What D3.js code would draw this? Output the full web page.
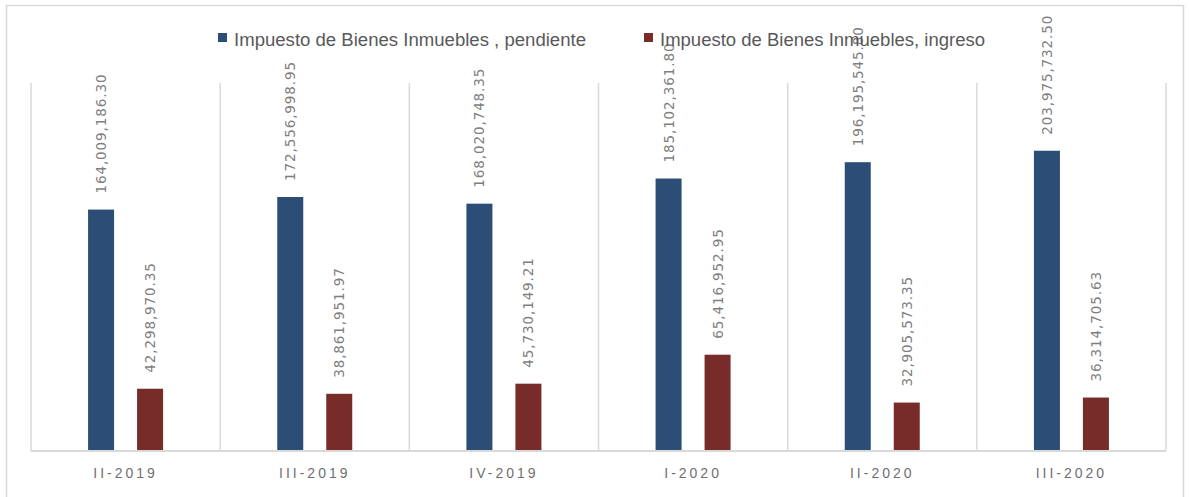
<!DOCTYPE html>
<html>
<head>
<meta charset="utf-8">
<script src="https://cdn.jsdelivr.net/npm/d3@7"></script>
<style>
  body { margin: 0; background: #fff; }
  svg { display: block; }
</style>
</head>
<body>
<svg id="chart"></svg>
<script>
const categories = ["II-2019", "III-2019", "IV-2019", "I-2020", "II-2020", "III-2020"];
const pendiente = [164009186.30, 172556998.95, 168020748.35, 185102361.80, 196195545.80, 203975732.50];
const ingreso = [42298970.35, 38861951.97, 45730149.21, 65416952.95, 32905573.35, 36314705.63];
const seriesNames = ["Impuesto de Bienes Inmuebles , pendiente", "Impuesto de Bienes Inmuebles, ingreso"];
const colors = ["#2c4d75", "#772c2a"];

const width = 1189, height = 497;
const margin = { top: 83, right: 23, bottom: 46, left: 31 };

const svg = d3.select("#chart").attr("width", width).attr("height", height);

// outer chart border
svg.append("rect")
  .attr("x", 6.5).attr("y", 5.5)
  .attr("width", 1177).attr("height", 500)
  .attr("fill", "none").attr("stroke", "#d9d9d9").attr("stroke-width", 1.5);

const x = d3.scaleBand(categories, [margin.left, width - margin.right]);
const y = d3.scaleLinear([0, 250000000], [height - margin.bottom, margin.top]);

const fmt = d3.format(",.2f");

// category separators
svg.append("g")
  .selectAll("line")
  .data(d3.range(categories.length + 1))
  .join("line")
  .attr("x1", (i) => margin.left + i * x.step())
  .attr("x2", (i) => margin.left + i * x.step())
  .attr("y1", margin.top)
  .attr("y2", y(0))
  .attr("stroke", "#d9d9d9")
  .attr("stroke-width", 1.5);

const barW = 26;

const data = [pendiente, ingreso];
data.forEach((vals, s) => {
  const g = svg.append("g");
  const cx = (i) => x(categories[i]) + x.bandwidth() / 2 + (s === 0 ? -24.5 : 24.5);
  g.selectAll("rect")
    .data(vals)
    .join("rect")
    .attr("x", (d, i) => cx(i) - barW / 2)
    .attr("y", (d) => y(d))
    .attr("width", barW)
    .attr("height", (d) => y(0) - y(d))
    .attr("fill", colors[s]);

  g.selectAll("text")
    .data(vals)
    .join("text")
    .attr("transform", (d, i) => `translate(${cx(i) + 5},${y(d) - 16}) rotate(-90)`)
    .attr("text-anchor", "start")
    .attr("font-family", "DejaVu Sans")
    .attr("font-size", 13.5)
    .attr("letter-spacing", 0.9)
    .attr("fill", "#7f7f7f")
    .text((d) => fmt(d));
});

// baseline
svg.append("line")
  .attr("x1", margin.left).attr("x2", width - margin.right)
  .attr("y1", y(0)).attr("y2", y(0))
  .attr("stroke", "#d9d9d9").attr("stroke-width", 2);

// x axis labels
svg.append("g")
  .attr("transform", `translate(0,${y(0)})`)
  .call(d3.axisBottom(x).tickSize(0).tickPadding(17))
  .call((g) => g.select(".domain").remove())
  .call((g) => g.selectAll("text")
    .attr("font-family", "Liberation Sans")
    .attr("font-size", 14)
    .attr("letter-spacing", 3)
    .attr("fill", "#6f6f6f"));

// legend
const legendX = [218, 644];
const legendLen = [352, 325];
const legend = svg.append("g");
seriesNames.forEach((name, i) => {
  legend.append("rect")
    .attr("x", legendX[i]).attr("y", 33)
    .attr("width", 9).attr("height", 9)
    .attr("fill", colors[i]);
  legend.append("text")
    .attr("x", legendX[i] + 16).attr("y", 46)
    .attr("font-family", "Liberation Sans")
    .attr("font-size", 18)
    .attr("textLength", legendLen[i])
    .attr("lengthAdjust", "spacingAndGlyphs")
    .attr("fill", "#595959")
    .text(name);
});
</script>
</body>
</html>
